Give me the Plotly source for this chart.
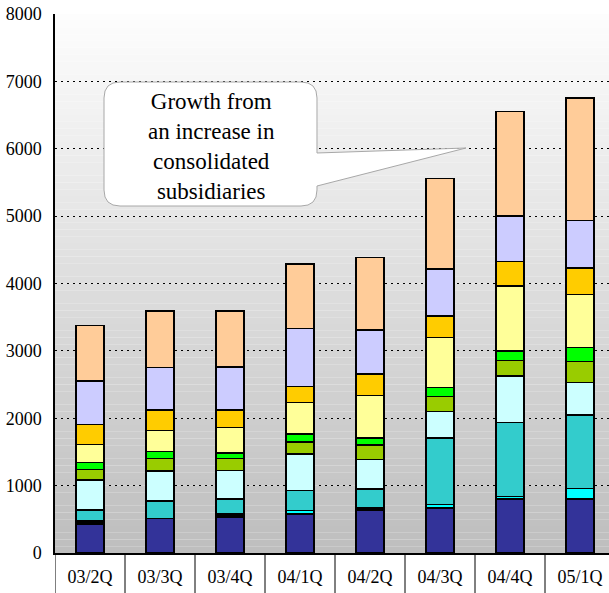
import plotly.graph_objects as go

# Quarterly breakdown, stacked bottom to top
quarters = ["03/2Q", "03/3Q", "03/4Q", "04/1Q", "04/2Q", "04/3Q", "04/4Q", "05/1Q"]

navy = [430, 515, 535, 580, 640, 665, 800, 800]
black = [45, None, 50, None, 35, None, None, None]
aqua = [None, None, None, 50, None, 55, 40, 160]
teal = [160, 260, 220, 295, 275, 990, 1100, 1090]
pale_cyan = [445, 445, 420, 545, 440, 390, 685, 480]
olive = [160, 180, 180, 180, 215, 225, 230, 310]
lime = [105, 110, 80, 115, 105, 130, 145, 210]
pale_yellow = [265, 310, 380, 470, 625, 745, 965, 785]
gold = [300, 300, 260, 240, 320, 315, 365, 395]
lavender = [645, 635, 635, 860, 655, 700, 675, 705]
peach = [820, 835, 835, 955, 1075, 1340, 1545, 1820]

series = [
    (navy, "#333399"),
    (black, "#000000"),
    (aqua, "#00FFFF"),
    (teal, "#33CCCC"),
    (pale_cyan, "#CCFFFF"),
    (olive, "#99CC00"),
    (lime, "#00FF00"),
    (pale_yellow, "#FFFF99"),
    (gold, "#FFCC00"),
    (lavender, "#CCCCFF"),
    (peach, "#FFCC99"),
]

y_ticks = [0, 1000, 2000, 3000, 4000, 5000, 6000, 7000, 8000]

W, H = 609, 593
L, R, T, B = 55, 0, 14, 40
PW, PH = W - L - R, H - T - B
CAT_W = 70  # pixel width of one category slot

fig = go.Figure()
for vals, col in series:
    fig.add_trace(go.Bar(
        x=quarters, y=vals,
        marker=dict(color=col, line=dict(color="#000000", width=1.5)),
        showlegend=False, hoverinfo="skip",
    ))

def px(x):
    return (x - L) / PW

def py(y):
    return (T + PH - y) / PH

shapes = []
# vertical grey gradient behind the plotting area
n = 80
top_c, bot_c = (253, 253, 253), (190, 190, 190)
for i in range(n):
    f = i / (n - 1)
    c = tuple(round(top_c[k] + (bot_c[k] - top_c[k]) * f) for k in range(3))
    shapes.append(dict(
        type="rect", xref="paper", yref="paper", layer="below",
        x0=0, x1=1, y0=1 - (i + 1) / n, y1=1 - i / n,
        fillcolor="rgb(%d,%d,%d)" % c, line=dict(width=0),
    ))

# category separators below the axis
for i in range(len(quarters) + 1):
    shapes.append(dict(
        type="line", xref="x", yref="paper",
        x0=i - 0.5, x1=i - 0.5, y0=0, y1=-B / PH,
        line=dict(color="#000000", width=1),
    ))

# speech-bubble callout
bx0, bx1, by0, by1, r = 104, 317, 82, 206, 16
tail = [(317, 153), (466, 148), (317, 186)]

def P(x, y):
    return "%.5f,%.5f" % (px(x), py(y))

path = (
    "M " + P(bx0 + r, by0) + " L " + P(bx1 - r, by0)
    + " Q " + P(bx1, by0) + " " + P(bx1, by0 + r)
    + " L " + P(*tail[0]) + " L " + P(*tail[1]) + " L " + P(*tail[2])
    + " L " + P(bx1, by1 - r)
    + " Q " + P(bx1, by1) + " " + P(bx1 - r, by1)
    + " L " + P(bx0 + r, by1)
    + " Q " + P(bx0, by1) + " " + P(bx0, by1 - r)
    + " L " + P(bx0, by0 + r)
    + " Q " + P(bx0, by0) + " " + P(bx0 + r, by0) + " Z"
)
shapes.append(dict(
    type="path", xref="paper", yref="paper", path=path,
    fillcolor="#FFFFFF", line=dict(color="#A8A8A8", width=1),
))

serif = "Liberation Serif, Times New Roman, serif"
annotations = [dict(
    xref="paper", yref="paper", x=px(211), y=py(146),
    xanchor="center", yanchor="middle",
    text="Growth from<br>an increase in<br>consolidated<br>subsidiaries",
    showarrow=False, align="center",
    font=dict(family=serif, size=23, color="#000000"),
)]

fig.update_layout(
    width=W, height=H,
    margin=dict(l=L, r=R, t=T, b=B, pad=0),
    paper_bgcolor="#FFFFFF", plot_bgcolor="rgba(0,0,0,0)",
    barmode="stack", bargap=0.6,
    shapes=shapes, annotations=annotations,
    font=dict(family=serif, color="#000000"),
)
fig.update_xaxes(
    type="category", range=[-0.5, -0.5 + PW / CAT_W],
    showline=True, linecolor="#000000", linewidth=2,
    showgrid=False, ticks="", zeroline=False,
    tickfont=dict(family=serif, size=18, color="#000000"),
    ticklabelstandoff=6,
)
fig.update_yaxes(
    range=[0, 8000], tickvals=y_ticks,
    showline=True, linecolor="#000000", linewidth=1.5,
    showgrid=True, gridcolor="#000000", gridwidth=1, griddash="2px,4px",
    zeroline=False, ticks="",
    tickfont=dict(family=serif, size=18, color="#000000"),
    ticklabelstandoff=8,
)

fig.write_html("out.html")
